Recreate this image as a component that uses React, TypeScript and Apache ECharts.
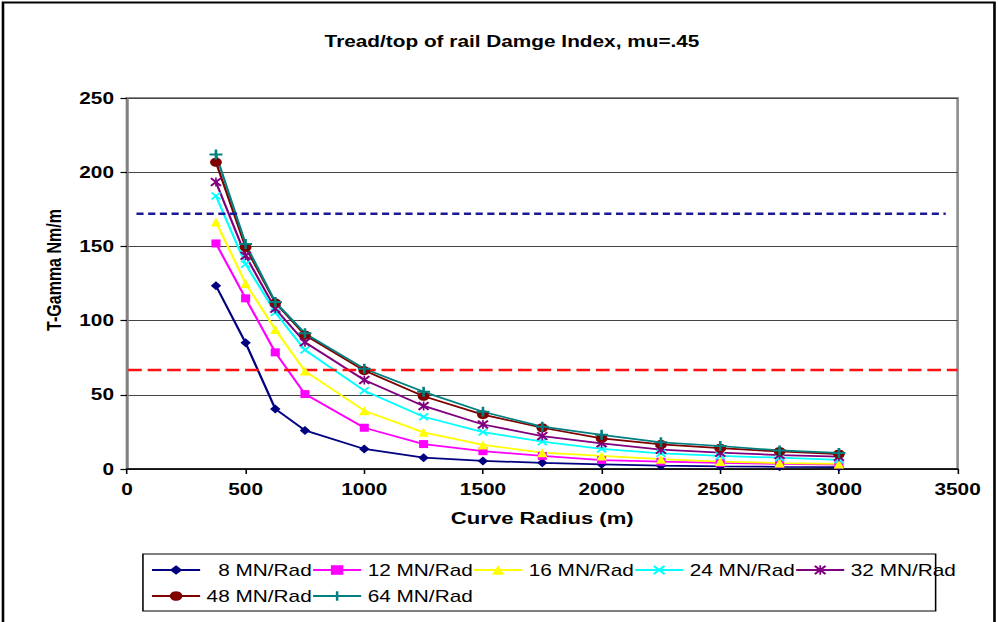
import React, { useEffect, useRef } from "react";
import * as echarts from "echarts";

// ---- data ----
const radius = [375, 500, 625, 750, 1000, 1250, 1500, 1750, 2000, 2250, 2500, 2750, 3000];
const k8 = [123.5, 85, 40.5, 26, 13.5, 7.6, 5.4, 4.2, 3.2, 2.2, 1.8, 1.5, 1.3];
const k12 = [152, 115, 78.6, 50.5, 27.8, 16.8, 12, 8.8, 6, 4.9, 4.1, 3.5, 3];
const k16 = [166.5, 125, 94, 66, 39.3, 24.7, 16.2, 11, 8.8, 6.6, 5, 4, 3.4];
const k24 = [184, 138, 105.5, 80.2, 52.8, 35.2, 24.9, 18.4, 13.5, 10.6, 8.8, 7.6, 6.2];
const k32 = [193.4, 143.7, 108, 85.4, 60, 42.5, 30, 22.2, 17.3, 13, 11, 9.4, 8.3];
const k48 = [206.7, 149.4, 112, 90.3, 66.3, 49, 36.6, 27.8, 20.7, 16.6, 14, 11.8, 10.1];
const k64 = [212, 151.6, 112.5, 91.4, 67.6, 52, 38.6, 28.5, 23, 18, 15.5, 12.5, 10.8];
const seriesNames = ["8 MN/Rad", "12 MN/Rad", "16 MN/Rad", "24 MN/Rad", "32 MN/Rad", "48 MN/Rad", "64 MN/Rad"];
const seriesValues = [k8, k12, k16, k24, k32, k48, k64];

const upperLimit = 172;
const upperRange = [40, 3450];
const lowerLimit = 66.7;
const lowerRange = [5, 3500];

const titleText = "Tread/top of rail Damge Index, mu=.45";
const xName = "Curve Radius (m)";
const yName = "T-Gamma Nm/m";

// ---- styles ----
const FONT = "'Liberation Sans', Arial, sans-serif";
const PLUS = "path://M4,0H6V4H10V6H6V10H4V6H0V4H4Z";
const CROSS = "path://M0,1.4L1.4,0L5,3.6L8.6,0L10,1.4L6.4,5L10,8.6L8.6,10L5,6.4L1.4,10L0,8.6L3.6,5Z";
const STAR = CROSS + "M4.3,0H5.7V10H4.3Z";
const styles = [
  { color: "#000080", symbol: "diamond", size: [8, 9] },
  { color: "#FF00FF", symbol: "rect", size: [7, 8] },
  { color: "#FFFF00", symbol: "triangle", size: [8, 9] },
  { color: "#00FFFF", symbol: CROSS, size: [8, 8] },
  { color: "#800080", symbol: STAR, size: [9, 9] },
  { color: "#800000", symbol: "circle", size: [9, 9] },
  { color: "#008080", symbol: PLUS, size: [10, 10] },
];

const W = 768;
const H = 622;
const SX = 998 / W;

export default function App() {
  const ref = useRef<HTMLDivElement>(null);
  useEffect(() => {
    const chart = echarts.init(ref.current!, null, { renderer: "svg" });
    const dataSeries = seriesNames.map((name, i) => ({
      name,
      type: "line",
      data: radius.map((r, j) => [r, seriesValues[i][j]]),
      symbol: styles[i].symbol,
      symbolSize: styles[i].size,
      itemStyle: { color: styles[i].color },
      lineStyle: { color: styles[i].color, width: 1.75 },
      emphasis: { disabled: true },
    }));
    chart.setOption({
      animation: false,
      backgroundColor: "#ffffff",
      title: {
        text: titleText,
        left: 389,
        top: 28,
        textAlign: "center",
        textStyle: { fontFamily: FONT, fontSize: 16, fontWeight: "bold", color: "#000" },
      },
      grid: {
        left: 97.7,
        right: 31.1,
        top: 98,
        bottom: 153,
        show: true,
        borderColor: "#8c8c8c",
        borderWidth: 2,
        outerBoundsMode: "none",
      },
      xAxis: {
        type: "value",
        min: 0,
        max: 3500,
        interval: 500,
        name: xName,
        nameLocation: "middle",
        nameGap: 40,
        nameTextStyle: { fontFamily: FONT, fontSize: 17, fontWeight: "bold", color: "#000" },
        axisLine: { show: true, lineStyle: { color: "#000", width: 1.5 } },
        axisTick: { show: true, length: 5, lineStyle: { color: "#000", width: 1.2 } },
        splitLine: { show: false },
        axisLabel: {
          margin: 12,
          formatter: (v: number) => String(v),
          fontFamily: FONT,
          fontSize: 16,
          fontWeight: "bold",
          color: "#000",
        },
      },
      yAxis: {
        type: "value",
        min: 0,
        max: 250,
        interval: 50,
        axisLine: { show: true, lineStyle: { color: "#808080", width: 2 } },
        axisTick: { show: true, length: 5, lineStyle: { color: "#000", width: 1.2 } },
        splitLine: { show: true, lineStyle: { color: "#444", width: 1 } },
        axisLabel: {
          margin: 10,
          formatter: (v: number) => String(v),
          fontFamily: FONT,
          fontSize: 16,
          fontWeight: "bold",
          color: "#000",
        },
      },
      legend: {
        data: seriesNames,
        left: 116,
        top: 557,
        width: 620,
        padding: 0,
        itemGap: 0,
        itemWidth: 37,
        itemHeight: 12,
        formatter: (n: string) => (n.startsWith("8 ") ? "\u00a0\u00a0" + n : n),
        textStyle: { fontFamily: FONT, fontSize: 16, color: "#000", lineHeight: 26 },
        selectedMode: false,
      },
      graphic: [
        {
          type: "rect",
          shape: { x: 2.3, y: 2.5, width: 763, height: 640 },
          style: { fill: "none", stroke: "#000", lineWidth: 2 },
          silent: true,
        },
        {
          type: "rect",
          shape: { x: 110, y: 554, width: 610, height: 57 },
          style: { fill: "none", stroke: "#000", lineWidth: 1.2 },
          silent: true,
        },
        {
          type: "text",
          x: 41.5,
          y: 270,
          rotation: Math.PI / 2,
          style: {
            text: yName,
            align: "center",
            verticalAlign: "middle",
            fontFamily: FONT,
            fontSize: 16,
            fontWeight: "bold",
            fill: "#000",
          },
          silent: true,
        },
      ],
      series: [
        ...dataSeries,
        {
          name: "upper",
          type: "line",
          data: upperRange.map((x) => [x, upperLimit]),
          symbol: "none",
          lineStyle: { color: "#1a1a99", width: 2.5, type: [5.5, 3.5] },
          silent: true,
        },
        {
          name: "lower",
          type: "line",
          data: lowerRange.map((x) => [x, lowerLimit]),
          symbol: "none",
          lineStyle: { color: "#ff1010", width: 2.5, type: [10.5, 4.5] },
          silent: true,
        },
      ],
    });
    return () => chart.dispose();
  }, []);
  return (
    <div
      style={{
        position: "fixed",
        left: 0,
        top: 0,
        width: 998,
        height: 622,
        overflow: "hidden",
        background: "#fff",
      }}
    >
      <div
        ref={ref}
        style={{ width: W, height: H, transform: `scaleX(${SX})`, transformOrigin: "0 0" }}
      />
    </div>
  );
}
